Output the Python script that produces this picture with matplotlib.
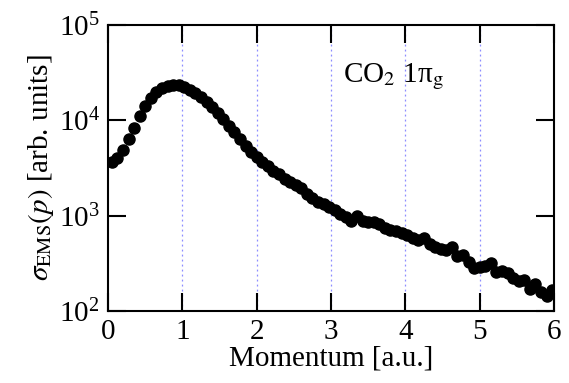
import numpy as np
import matplotlib
matplotlib.use('Agg')
import matplotlib.pyplot as plt

# 动量 [a.u.] 与 EMS 截面
momentum = [0.05, 0.125, 0.20, 0.275, 0.35, 0.425, 0.50, 0.575, 0.65, 0.725,
            0.80, 0.875, 0.95, 1.025, 1.10, 1.175, 1.25, 1.325, 1.40, 1.475,
            1.55, 1.625, 1.70, 1.775, 1.85, 1.925, 2.00, 2.075, 2.15, 2.225,
            2.30, 2.375, 2.45, 2.525, 2.60, 2.675, 2.75, 2.825, 2.90, 2.975,
            3.05, 3.125, 3.20, 3.275, 3.35, 3.425, 3.50, 3.575, 3.65, 3.725,
            3.80, 3.875, 3.95, 4.025, 4.10, 4.175, 4.25, 4.325, 4.40, 4.475,
            4.55, 4.625, 4.70, 4.775, 4.85, 4.925, 5.00, 5.075, 5.15, 5.225,
            5.30, 5.375, 5.45, 5.525, 5.60, 5.675, 5.75, 5.825, 5.90, 5.975]
sigma = [3650, 4000, 4900, 6400, 8300, 11000, 14000, 17000, 19800, 21800,
         23000, 23500, 23200, 22200, 20800, 19200, 17500, 15600, 13800, 11800,
         10300, 8800, 7500, 6300, 5400, 4700, 4150, 3700, 3300, 2950,
         2750, 2450, 2250, 2100, 1950, 1700, 1520, 1400, 1320, 1230,
         1150, 1050, 960, 880, 990, 870, 850, 860, 820, 740,
         700, 690, 660, 620, 590, 560, 580, 510, 470, 445,
         440, 470, 375, 390, 330, 285, 290, 300, 320, 258,
         262, 250, 220, 205, 212, 170, 190, 160, 145, 165]
grid_x = [1, 2, 3, 4, 5]
x_ticks = [0, 1, 2, 3, 4, 5, 6]
y_ticks = [1e2, 1e3, 1e4, 1e5]

plt.rcParams['font.family'] = ['Liberation Serif', 'DejaVu Serif']
plt.rcParams['mathtext.fontset'] = 'stix'
plt.rcParams['font.size'] = 21

fig = plt.figure(figsize=(5.69, 3.83), dpi=100)
ax = fig.add_axes([0.19, 0.188, 0.7836, 0.7467])

for gx in grid_x:
    ax.axvline(gx, color='#8c8cff', linestyle=(0, (1.5, 2.5)), linewidth=0.9, zorder=1)

ax.plot(momentum, sigma, 'o', color='black', markersize=8, zorder=3)

ax.set_yscale('log')
ax.set_xlim(0, 6)
ax.set_ylim(1e2, 1e5)
ax.set_xticks(x_ticks)
ax.set_xticklabels([str(t) for t in x_ticks])
ax.set_yticks(y_ticks)
ax.yaxis.set_minor_locator(matplotlib.ticker.NullLocator())
ax.tick_params(which='both', direction='in', top=True, right=True,
               length=13, width=1.5, labelsize=21, pad=6)
for sp in ax.spines.values():
    sp.set_linewidth(1.5)

ax.set_xlabel('Momentum [a.u.]', fontsize=21, labelpad=0)
ax.set_ylabel(r'$\sigma_{\mathrm{EMS}}(p)$ [arb. units]', fontsize=21, labelpad=2)
ax.text(0.527, 0.80, r'CO$_2$ 1π$_\mathrm{g}$', transform=ax.transAxes,
        fontsize=21, va='baseline', ha='left')

plt.savefig('out.png', dpi=100)
